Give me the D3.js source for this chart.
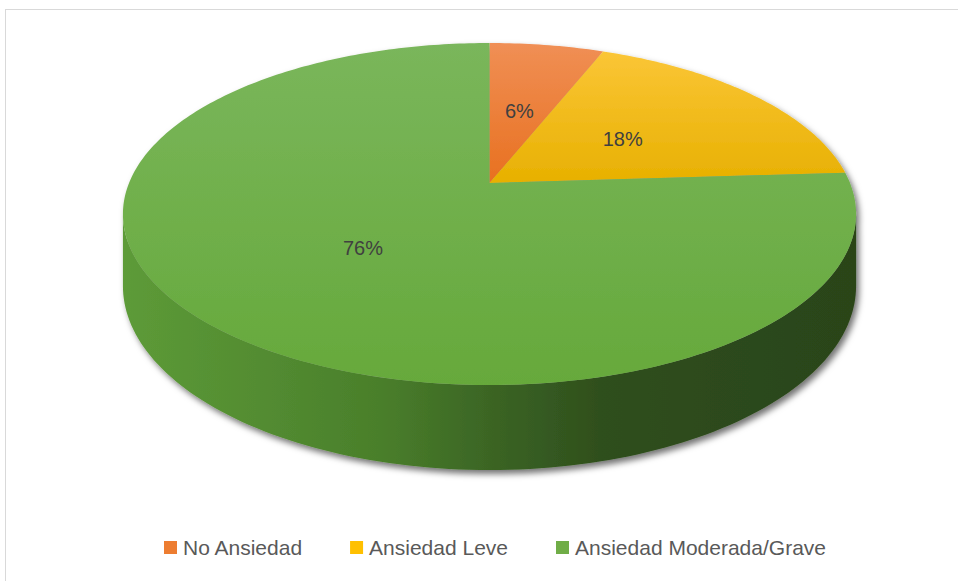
<!DOCTYPE html>
<html>
<head>
<meta charset="utf-8">
<script src="https://cdn.jsdelivr.net/npm/d3@7"></script>
<style>
  body { margin: 0; background: #fff; }
  svg { display: block; }
</style>
</head>
<body>
<svg id="chart" width="958" height="581"></svg>
<script>
var categories = ["No Ansiedad", "Ansiedad Leve", "Ansiedad Moderada/Grave"];
var values = [6, 18, 76];
var labels = ["6%", "18%", "76%"];
var colors = ["#ed7d31", "#ffc000", "#70ad47"];

var svg = d3.select("#chart");
var W = 958, H = 581;

// perspective pie geometry
var cx = 489.5, cy = 183;   // apex where slices meet
var sx = 360.5;             // horizontal radius factor
var ty = 165.4;             // depth radius factor
var k = 0.1813;             // perspective strength
var depth = 69.6;           // thickness

function proj(theta, r, drop){
  var u = r * Math.sin(theta);
  var v = -r * Math.cos(theta);
  var d = 1 - k * v;
  return [cx + sx * u / d, cy + (ty * v + (drop || 0)) / d];
}

var defs = svg.append("defs");

// chart border (only top and left visible)
svg.append("rect")
  .attr("x", 5.5).attr("y", 9.5)
  .attr("width", 1000).attr("height", 1000)
  .attr("fill", "none")
  .attr("stroke", "#d9d9d9")
  .attr("stroke-width", 1);

var shadow = defs.append("filter").attr("id", "shadow")
  .attr("x", "-10%").attr("y", "-10%").attr("width", "120%").attr("height", "130%");
shadow.append("feDropShadow")
  .attr("dx", 3).attr("dy", 4).attr("stdDeviation", 3)
  .attr("flood-color", "#000").attr("flood-opacity", 0.55);

var sideGrad = defs.append("linearGradient").attr("id", "sideGrad")
  .attr("gradientUnits", "userSpaceOnUse")
  .attr("x1", 122).attr("x2", 857).attr("y1", 0).attr("y2", 0);
[[0, "#5d9b38"], [0.35, "#4a7f2b"], [0.5, "#3b6524"], [0.65, "#2f4f1d"], [1, "#2a4419"]]
  .forEach(function(s){
    sideGrad.append("stop").attr("offset", s[0]).attr("stop-color", s[1]);
  });

var topShades = [
  ["#f08f55", "#e8701f"],
  ["#fcc73a", "#e7b000"],
  ["#7ab65b", "#66a93b"]
];
colors.forEach(function(c, i){
  var g = defs.append("linearGradient").attr("id", "topGrad" + i)
    .attr("gradientUnits", "userSpaceOnUse")
    .attr("x1", 0).attr("x2", 0).attr("y1", 43).attr("y2", 385);
  if (i === 0 || i === 1) g.attr("y2", 185);
  g.append("stop").attr("offset", 0).attr("stop-color", topShades[i][0]);
  g.append("stop").attr("offset", 1).attr("stop-color", topShades[i][1]);
});

var pie = d3.pie().sort(null).value(function(d){ return d; });
var arcs = pie(values);

var pieG = svg.append("g").attr("filter", "url(#shadow)");

// side wall: visible between the left and right silhouette angles
var aR = Math.acos(-k), aL = 2 * Math.PI - Math.acos(-k);
var steps = 120;
var sidePts = [];
for (var i = 0; i <= steps; i++) {
  sidePts.push(proj(aR + (aL - aR) * i / steps, 1, 0));
}
for (var j = steps; j >= 0; j--) {
  sidePts.push(proj(aR + (aL - aR) * j / steps, 1, depth));
}
pieG.append("path")
  .attr("d", d3.line()(sidePts) + "Z")
  .attr("fill", "url(#sideGrad)");

// top faces
arcs.forEach(function(a, i){
  var pts = [[cx, cy]];
  var n = Math.max(8, Math.ceil((a.endAngle - a.startAngle) * 60));
  for (var m = 0; m <= n; m++) {
    pts.push(proj(a.startAngle + (a.endAngle - a.startAngle) * m / n, 1, 0));
  }
  pieG.append("path")
    .attr("d", d3.line()(pts) + "Z")
    .attr("fill", "url(#topGrad" + i + ")");
});

// data labels
arcs.forEach(function(a, i){
  var p = proj((a.startAngle + a.endAngle) / 2, 0.48, 0);
  svg.append("text")
    .attr("x", p[0]).attr("y", p[1] + (i === 2 ? 3 : 0))
    .attr("dy", "0.35em")
    .attr("text-anchor", "middle")
    .attr("font-family", "'Liberation Sans', Arial, sans-serif")
    .attr("font-size", 20)
    .attr("fill", "#404040")
    .text(labels[i]);
});

// legend: spread between x=164 and x=826
var legend = svg.append("g").attr("transform", "translate(164,547.5)");
var legendLeft = 164, legendRight = 826;
var items = categories.map(function(c, i){
  var g = legend.append("g");
  g.append("rect").attr("x", 0).attr("y", -6.5).attr("width", 13).attr("height", 13)
    .attr("fill", colors[i]);
  var t = g.append("text").attr("x", 19).attr("y", 0).attr("dy", "0.35em")
    .attr("font-family", "'Liberation Sans', Arial, sans-serif")
    .attr("font-size", 21)
    .attr("fill", "#595959")
    .text(c);
  return { g: g, w: 19 + t.node().getComputedTextLength() };
});
var sumW = d3.sum(items, function(d){ return d.w; });
var gap = (legendRight - legendLeft - sumW) / (items.length - 1);
var lx = 0;
items.forEach(function(d){
  d.g.attr("transform", "translate(" + lx + ",0)");
  lx += d.w + gap;
});
</script>
</body>
</html>
